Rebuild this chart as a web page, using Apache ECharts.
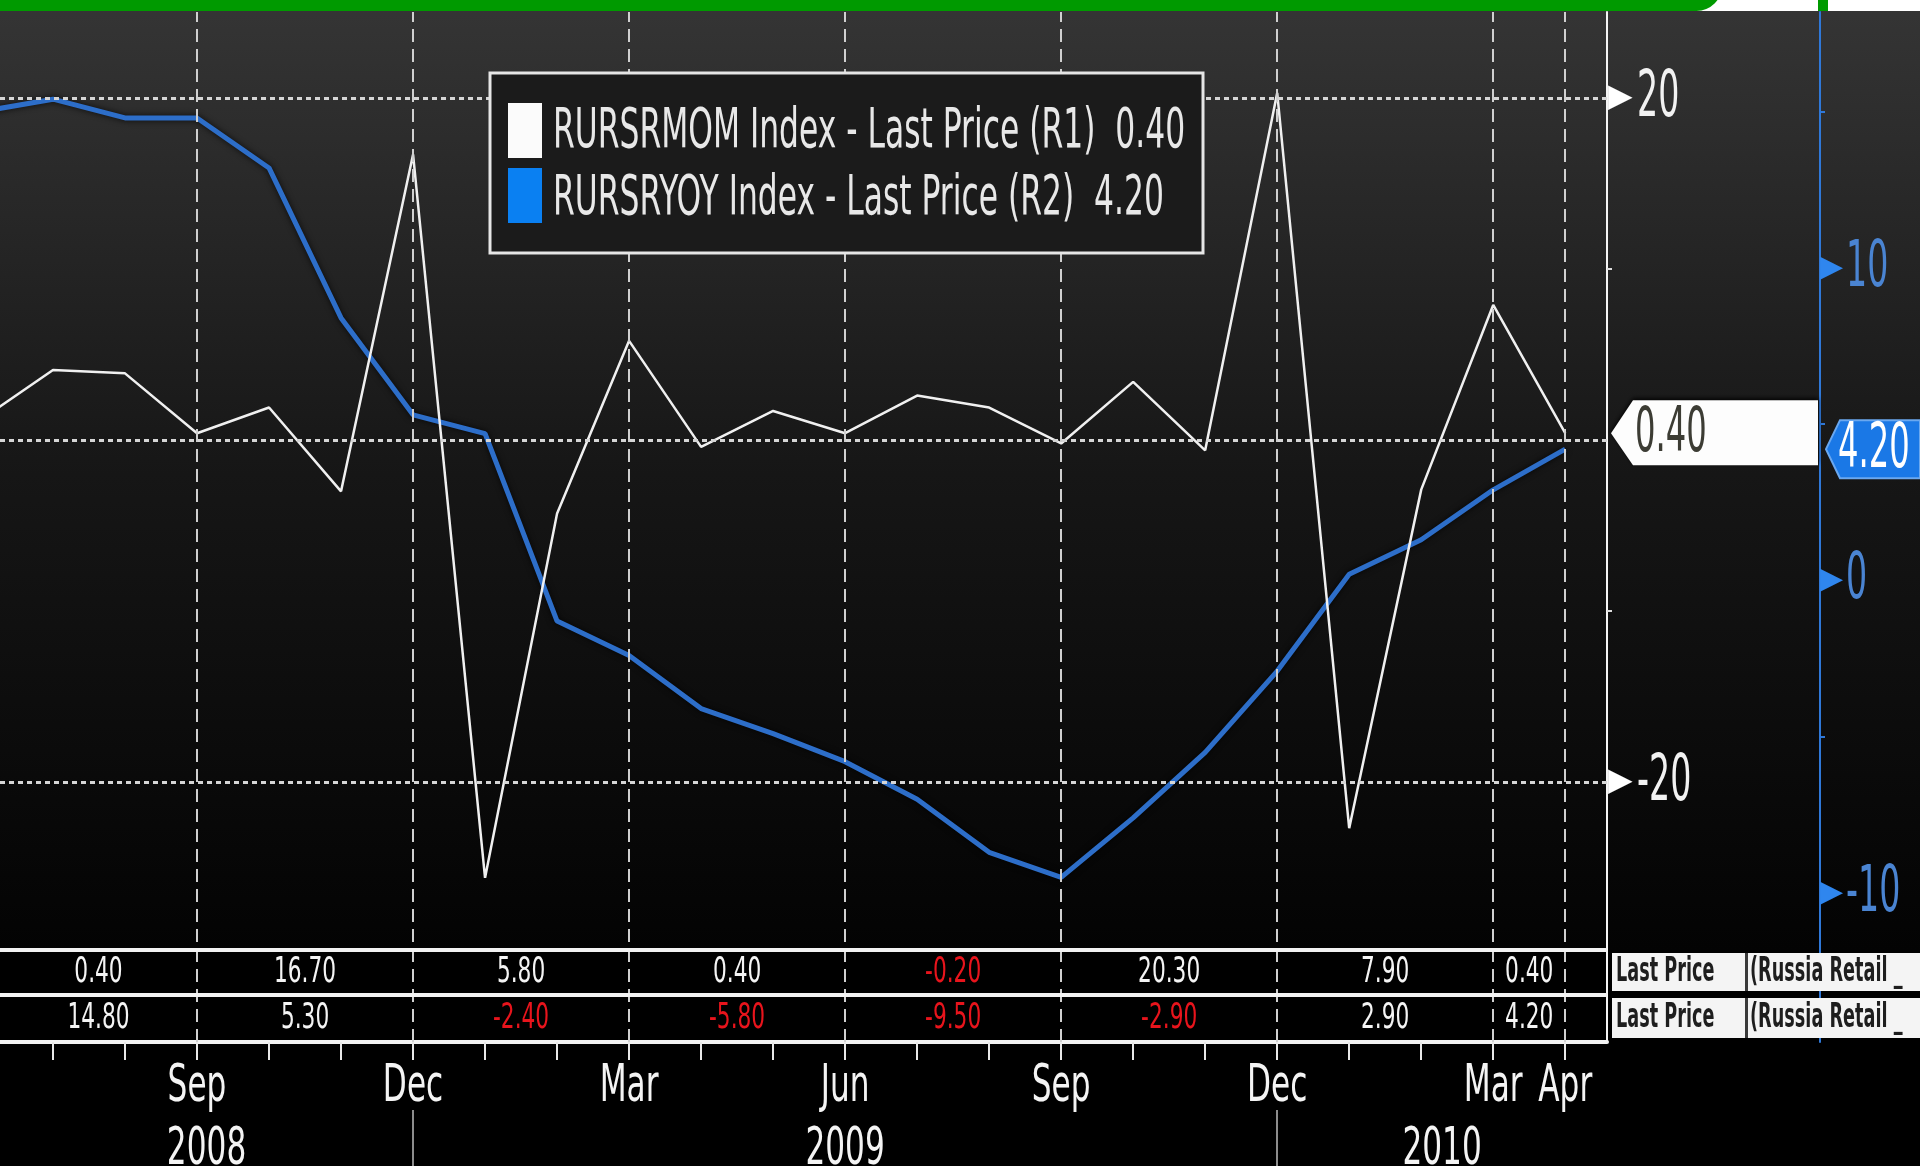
<!DOCTYPE html>
<html>
<head>
<meta charset="utf-8">
<title>RURSRMOM / RURSRYOY Index</title>
<script src="https://cdn.jsdelivr.net/npm/echarts@6/dist/echarts.min.js"></script>
<style>
  html, body { margin: 0; padding: 0; background: #000; }
  #chart { width: 1920px; height: 1166px; }
</style>
</head>
<body>
<div id="chart"></div>
<script>
  // monthly points, Jun 2008 .. Apr 2010 (first one sits just left of the plot)
  const months = [
    '2008-06', '2008-07', '2008-08', '2008-09', '2008-10', '2008-11', '2008-12',
    '2009-01', '2009-02', '2009-03', '2009-04', '2009-05', '2009-06',
    '2009-07', '2009-08', '2009-09', '2009-10', '2009-11', '2009-12',
    '2010-01', '2010-02', '2010-03', '2010-04'
  ];
  // RURSRMOM (month on month), right axis R1
  const momValues = [1.2, 4.1, 3.9, 0.4, 1.9, -3.0, 16.7, -25.6, -4.3, 5.8, -0.4, 1.7, 0.4,
                     2.6, 1.9, -0.2, 3.4, -0.6, 20.3, -22.7, -2.9, 7.9, 0.4];
  // RURSRYOY (year on year), right axis R2
  const yoyValues = [15.0, 15.4, 14.8, 14.8, 13.2, 8.4, 5.3, 4.7, -1.3, -2.4, -4.1, -4.9, -5.8,
                     -7.0, -8.7, -9.5, -7.6, -5.5, -2.9, 0.2, 1.3, 2.9, 4.2];

  const labelMonths = ['2008-09', '2008-12', '2009-03', '2009-06', '2009-09', '2009-12', '2010-03', '2010-04'];
  const yearBreaks = ['2008-12', '2009-12'];
  const monthNames = ['Jan', 'Feb', 'Mar', 'Apr', 'May', 'Jun', 'Jul', 'Aug', 'Sep', 'Oct', 'Nov', 'Dec'];
  const r1Labels = [20, -20];
  const r1Minor = [10, -10];
  const r1Grid = [20, 0, -20];
  const r2Labels = [10, 0, -10];
  const r2Minor = [15, 5, -5];

  const MOM_NAME = 'RURSRMOM Index - Last Price (R1)';
  const YOY_NAME = 'RURSRYOY Index - Last Price (R2)';

  const FONT = 'DejaVu Sans';
  const X_MIN = 0.264, X_MAX = 22.58;
  const AXIS1_X = 1607, AXIS2_X = 1820;

  const idx = m => months.indexOf(m);
  const labelIdx = labelMonths.map(idx);
  const breakIdx = yearBreaks.map(idx);
  const bounds = [X_MIN].concat(breakIdx, [X_MAX]);
  const yearCenters = bounds.slice(1).map((b, i) => (bounds[i] + b) / 2);
  const yearNames = yearCenters.map(c => months[Math.min(months.length - 1, Math.round(c))].slice(0, 4));
  const tickIdx = months.map((m, i) => i).filter(i => i > X_MIN);

  const dotted = { color: '#d6d6d6', width: 3, type: [5, 4] };
  const dashed = { color: '#d0d0d0', width: 2, type: [13, 7] };

  // the terminal font is tall and narrow, so text is squeezed sideways
  function squeezed(text, x, y, size, color, opts) {
    opts = opts || {};
    return {
      type: 'text', x: x, y: y, z: opts.z || 30, scaleX: opts.squeeze || 0.55, silent: true,
      style: {
        text: text, fontSize: size, fontFamily: FONT, fontWeight: opts.weight || 'normal',
        fill: color, align: opts.align || 'left', verticalAlign: 'middle'
      }
    };
  }

  const chart = echarts.init(document.getElementById('chart'));

  const option = {
    backgroundColor: '#000',
    animation: false,
    grid: { left: 0, right: 1920 - AXIS1_X, top: 12, bottom: 124, containLabel: false, outerBoundsMode: 'none' },
    xAxis: [
      {
        type: 'value', position: 'bottom', min: X_MIN, max: X_MAX,
        axisLine: { show: true, onZero: false, lineStyle: { color: '#f2f2f2', width: 4 } },
        axisTick: { show: true, customValues: tickIdx, length: 18, lineStyle: { color: '#e8e8e8', width: 2 } },
        axisLabel: { show: false },
        splitLine: { show: false }
      },
      {
        type: 'value', position: 'bottom', min: X_MIN, max: X_MAX, offset: 68,
        axisLine: { show: false, onZero: false },
        axisTick: { show: true, customValues: breakIdx, length: 60, lineStyle: { color: '#8c8c8c', width: 2 } },
        axisLabel: { show: false },
        splitLine: { show: false }
      }
    ],
    yAxis: [
      {
        type: 'value', position: 'right', min: -35.2, max: 25.03,
        axisLine: { show: true, onZero: false, lineStyle: { color: '#f4f4f4', width: 2 } },
        axisTick: { show: true, customValues: r1Minor, length: 5, lineStyle: { color: '#dddddd', width: 2 } },
        axisLabel: { show: false },
        splitLine: { show: false }
      },
      {
        type: 'value', position: 'right', offset: AXIS2_X - AXIS1_X, min: -14.77, max: 18.19,
        axisLine: { show: true, onZero: false, lineStyle: { color: '#2f78d8', width: 2 } },
        axisTick: { show: true, customValues: r2Minor, length: 5, lineStyle: { color: '#2f78d8', width: 2 } },
        axisLabel: { show: false },
        splitLine: { show: false }
      }
    ],
    series: [
      {
        name: MOM_NAME, type: 'line', xAxisIndex: 0, yAxisIndex: 0, z: 4,
        data: momValues.map((v, i) => [i, v]),
        symbol: 'none',
        lineStyle: { color: '#f0f0f0', width: 2.5 }
      },
      {
        name: YOY_NAME, type: 'line', xAxisIndex: 0, yAxisIndex: 1, z: 3,
        data: yoyValues.map((v, i) => [i, v]),
        symbol: 'none',
        lineStyle: { color: '#2d6ec9', width: 5, shadowColor: 'rgba(0,0,0,0.8)', shadowBlur: 6 }
      },
      {
        // grid lines only
        type: 'line', xAxisIndex: 0, yAxisIndex: 0, z: 1, data: [], silent: true,
        markLine: {
          silent: true, symbol: 'none', animation: false, label: { show: false },
          data: r1Grid.map(v => ({ yAxis: v, lineStyle: dotted }))
            .concat(labelIdx.map(i => ({ xAxis: i, lineStyle: dashed })))
        }
      }
    ]
  };
  chart.setOption(option);

  // pieces that sit around the plot, placed through the axes
  const px = v => chart.convertToPixel({ xAxisIndex: 0 }, v);
  const py1 = v => chart.convertToPixel({ yAxisIndex: 0 }, v);
  const py2 = v => chart.convertToPixel({ yAxisIndex: 1 }, v);
  const lastMom = momValues[momValues.length - 1];
  const lastYoy = yoyValues[yoyValues.length - 1];

  const graphic = [
    {
      type: 'rect', z: -100, silent: true,
      shape: { x: 0, y: 0, width: 1920, height: 950 },
      style: {
        fill: new echarts.graphic.LinearGradient(0, 0, 0, 1, [
          { offset: 0, color: '#353535' },
          { offset: 0.5, color: '#161616' },
          { offset: 1, color: '#030303' }
        ])
      }
    },
    // top banner
    { type: 'rect', z: 40, silent: true, shape: { x: 1660, y: 0, width: 260, height: 11 }, style: { fill: '#ffffff' } },
    { type: 'rect', z: 41, silent: true, shape: { x: -40, y: -40, width: 1762, height: 51, r: 32 }, style: { fill: '#009a00' } },
    { type: 'rect', z: 41, silent: true, shape: { x: 1818, y: 0, width: 10, height: 11 }, style: { fill: '#009a00' } },
    // table rows
    { type: 'rect', z: -50, silent: true, shape: { x: 0, y: 950, width: 1920, height: 216 }, style: { fill: '#000' } },
    { type: 'line', z: 20, silent: true, shape: { x1: 0, y1: 950, x2: AXIS1_X, y2: 950 }, style: { stroke: '#f2f2f2', lineWidth: 4 } },
    { type: 'line', z: 20, silent: true, shape: { x1: 0, y1: 995, x2: AXIS1_X, y2: 995 }, style: { stroke: '#f2f2f2', lineWidth: 4 } }
  ];

  [[953, 38, 972], [998, 40, 1018]].forEach(r => {
    graphic.push({ type: 'rect', z: 20, silent: true, shape: { x: 1612, y: r[0], width: 308, height: r[1] }, style: { fill: '#f4f4f4' } });
    graphic.push({ type: 'rect', z: 21, silent: true, shape: { x: 1745, y: r[0], width: 3, height: r[1] }, style: { fill: '#3a3a3a' } });
    graphic.push(squeezed('Last Price', 1616, r[2], 34, '#1e1e1e', { weight: 'bold', squeeze: 0.52, z: 22 }));
    graphic.push(squeezed('(Russia Retail _', 1750, r[2], 34, '#1e1e1e', { weight: 'bold', squeeze: 0.52, z: 22 }));
  });

  // table values under each labelled month, and the month names
  labelIdx.forEach((i, k) => {
    const prev = k === 0 ? X_MIN : labelIdx[k - 1];
    const cx = px((prev + i) / 2);
    [[momValues, 973], [yoyValues, 1019]].forEach(row => {
      const v = row[0][i];
      graphic.push(squeezed(v.toFixed(2), cx, row[1], 35, v < 0 ? '#e8141c' : '#f4f4f4', { align: 'center', squeeze: 0.62 }));
    });
    const name = monthNames[Number(months[i].slice(5)) - 1];
    graphic.push(squeezed(name, px(i), 1087, 52, '#f4f4f4', { align: 'center', squeeze: 0.6 }));
  });
  yearCenters.forEach((c, k) => {
    graphic.push(squeezed(yearNames[k], px(c), 1150, 52, '#f4f4f4', { align: 'center', squeeze: 0.6 }));
  });

  // right axis labels
  r1Labels.forEach(v => {
    const y = py1(v);
    graphic.push({ type: 'text', z: 30, silent: true, x: AXIS1_X + 1, y: y, style: { text: '▶', fontSize: 32, fontFamily: FONT, fill: '#ffffff', verticalAlign: 'middle' } });
    graphic.push(squeezed(String(v), AXIS1_X + 30, y + 1, 64, '#f2f2f2', { squeeze: 0.52 }));
  });
  r2Labels.forEach(v => {
    const y = py2(v);
    graphic.push({ type: 'text', z: 30, silent: true, x: AXIS2_X, y: y, style: { text: '▶', fontSize: 30, fontFamily: FONT, fill: '#2f86ee', verticalAlign: 'middle' } });
    graphic.push(squeezed(String(v), AXIS2_X + 26, y + 1, 64, '#4a84d2', { squeeze: 0.52 }));
  });

  // legend box
  graphic.push({ type: 'rect', z: 25, silent: true, shape: { x: 490, y: 73, width: 713, height: 180 }, style: { fill: '#1b1b1b', stroke: '#e6e6e6', lineWidth: 3 } });
  graphic.push({ type: 'rect', z: 26, silent: true, shape: { x: 508, y: 103, width: 34, height: 55 }, style: { fill: '#fbfbfb' } });
  graphic.push({ type: 'rect', z: 26, silent: true, shape: { x: 508, y: 168, width: 34, height: 55 }, style: { fill: '#0a80f2' } });
  graphic.push(squeezed(MOM_NAME + '  ' + lastMom.toFixed(2), 553, 133, 55, '#e8e8e8', { squeeze: 0.57 }));
  graphic.push(squeezed(YOY_NAME + '  ' + lastYoy.toFixed(2), 553, 200, 55, '#e8e8e8', { squeeze: 0.57 }));

  // last value tags on both axes
  const t1 = py1(lastMom);
  graphic.push({
    type: 'polygon', z: 30, silent: true,
    shape: { points: [[AXIS1_X + 4, t1], [AXIS1_X + 26, t1 - 33], [AXIS2_X - 2, t1 - 33], [AXIS2_X - 2, t1 + 32], [AXIS1_X + 26, t1 + 32]] },
    style: { fill: '#fdfdfd', shadowColor: 'rgba(0,0,0,0.9)', shadowBlur: 4, shadowOffsetY: -2 }
  });
  graphic.push(squeezed(lastMom.toFixed(2), AXIS1_X + 28, t1 + 2, 62, '#3c3c34', { squeeze: 0.52, z: 31 }));
  const t2 = py2(lastYoy);
  graphic.push({
    type: 'polygon', z: 30, silent: true,
    shape: { points: [[AXIS2_X + 6, t2], [AXIS2_X + 20, t2 - 29], [1920, t2 - 29], [1920, t2 + 29], [AXIS2_X + 20, t2 + 29]] },
    style: { fill: '#1a78e6', stroke: '#6aa8f0', lineWidth: 2 }
  });
  graphic.push(squeezed(lastYoy.toFixed(2), AXIS2_X + 18, t2 + 2, 62, '#ffffff', { squeeze: 0.52, z: 31 }));

  chart.setOption({ graphic: graphic });
</script>
</body>
</html>
